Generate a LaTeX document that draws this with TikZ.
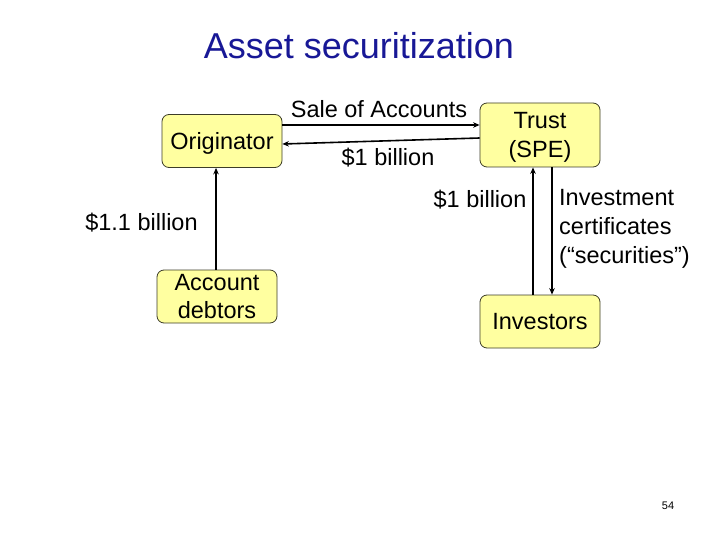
\documentclass[tikz,border=0pt]{standalone}
\usepackage{fontspec}
\setmainfont{Liberation Sans}
\usetikzlibrary{arrows.meta}
\definecolor{titleblue}{RGB}{24,24,150}
\definecolor{boxfill}{RGB}{255,255,160}
\definecolor{boxline}{RGB}{60,60,40}
\tikzset{
  box/.style={draw=boxline, line width=0.8pt, fill=boxfill, rounded corners=7pt,
    minimum width=120pt, inner sep=0pt, align=center, text depth=0pt,
    font=\fontsize{23.5}{28.5}\selectfont},
  lbl/.style={inner sep=0pt, font=\fontsize{23.5}{29}\selectfont},
  arr/.style={line width=1.6pt, -{Stealth[length=6.5pt,width=5.5pt]}}
}
\begin{document}
\begin{tikzpicture}[x=1pt,y=-1pt]
\useasboundingbox (0,0) rectangle (720,540);
\node[inner sep=0pt, text=titleblue, font=\fontsize{36}{40}\selectfont] (title) at (359,46) {Asset securitization};
\node[box, minimum height=53pt] (orig) at (222,141) {Originator};
\node[box, minimum height=64pt] (trust) at (540,135) {Trust\\(SPE)};
\node[box, minimum height=53pt] (deb) at (217,296.5) {Account\\debtors};
\node[box, minimum height=53pt] (inv) at (540,321.5) {Investors};
\draw[arr] ([yshift=16pt]orig.east) -- ([yshift=10pt]trust.west);
\draw[arr] ([yshift=-3pt]trust.west) -- ([yshift=-3pt]orig.east);
\draw[arr] ([xshift=-1pt]deb.north) -- ([xshift=-6pt]orig.south);
\draw[arr] ([xshift=-7pt]inv.north) -- ([xshift=-7pt]trust.south);
\draw[arr] ([xshift=12pt]trust.south) -- ([xshift=12pt]inv.north);
\node[lbl] (sale) at (379,109) {Sale of Accounts};
\node[lbl] (b1) at (388,158) {\$1 billion};
\node[lbl] (b11) at (141.5,223) {\$1.1 billion};
\node[lbl] (b2) at (480,200) {\$1 billion};
\node[lbl, anchor=west, align=left] (cert) at (559,229) {Investment\\certificates\\(“securities”)};
\node[inner sep=0pt, font=\fontsize{11}{13}\selectfont] (pg) at (668,506) {54};
\end{tikzpicture}
\end{document}
